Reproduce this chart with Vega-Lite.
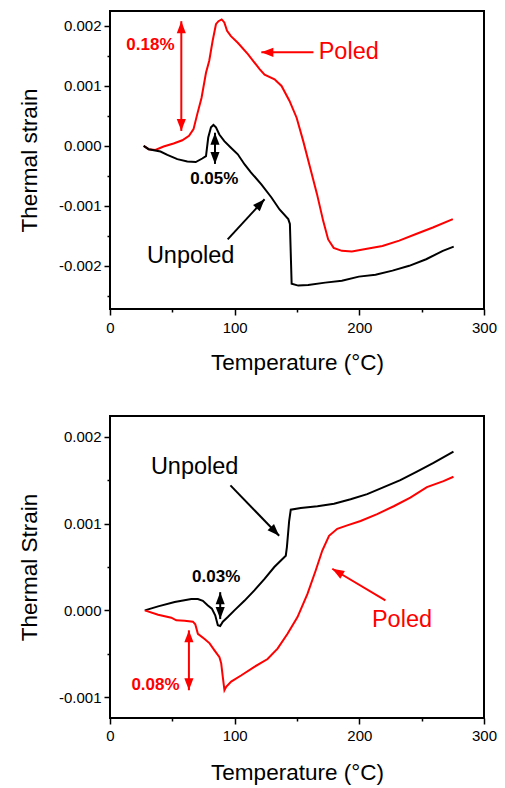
{
  "$schema": "https://vega.github.io/schema/vega-lite/v6.json",
  "padding": {"left": 17, "top": 10, "right": 10, "bottom": 5},
  "background": "white",
  "spacing": 40,
  "config": {
    "font": "Liberation Sans",
    "view": {"stroke": "black", "strokeWidth": 2},
    "axis": {
      "grid": false, "domain": false, "tickColor": "black", "tickWidth": 1.5,
      "labelColor": "black", "titleColor": "black", "labelFont": "Liberation Sans", "titleFont": "Liberation Sans",
      "labelFontSize": 15, "titleFontSize": 22.5, "titleFontWeight": "normal", "labelFlush": false, "labelOverlap": false
    }
  },
  "datasets": {
    "topCurves": [
      {"series": "Poled", "T": 27, "strain": 0},
      {"series": "Poled", "T": 31, "strain": -0.000055},
      {"series": "Poled", "T": 36.4, "strain": -0.000067},
      {"series": "Poled", "T": 43, "strain": -0.00001},
      {"series": "Poled", "T": 51, "strain": 0.00004},
      {"series": "Poled", "T": 58, "strain": 0.000094},
      {"series": "Poled", "T": 63.4, "strain": 0.000167},
      {"series": "Poled", "T": 67, "strain": 0.00028},
      {"series": "Poled", "T": 70, "strain": 0.00053},
      {"series": "Poled", "T": 73.4, "strain": 0.0008},
      {"series": "Poled", "T": 77, "strain": 0.00122},
      {"series": "Poled", "T": 79.6, "strain": 0.00142},
      {"series": "Poled", "T": 82.3, "strain": 0.00175},
      {"series": "Poled", "T": 85, "strain": 0.00203},
      {"series": "Poled", "T": 87, "strain": 0.00208},
      {"series": "Poled", "T": 89.6, "strain": 0.00211},
      {"series": "Poled", "T": 91.7, "strain": 0.00206},
      {"series": "Poled", "T": 93.9, "strain": 0.00192},
      {"series": "Poled", "T": 97, "strain": 0.00183},
      {"series": "Poled", "T": 102.5, "strain": 0.00172},
      {"series": "Poled", "T": 110.6, "strain": 0.00153},
      {"series": "Poled", "T": 120, "strain": 0.00128},
      {"series": "Poled", "T": 124, "strain": 0.00119},
      {"series": "Poled", "T": 132, "strain": 0.00111},
      {"series": "Poled", "T": 137.6, "strain": 0.001},
      {"series": "Poled", "T": 144, "strain": 0.00075},
      {"series": "Poled", "T": 149.7, "strain": 0.00047},
      {"series": "Poled", "T": 155, "strain": 0.00008},
      {"series": "Poled", "T": 160.5, "strain": -0.00036},
      {"series": "Poled", "T": 166, "strain": -0.0008},
      {"series": "Poled", "T": 171, "strain": -0.00125},
      {"series": "Poled", "T": 175, "strain": -0.00156},
      {"series": "Poled", "T": 179.4, "strain": -0.0017},
      {"series": "Poled", "T": 186, "strain": -0.00175},
      {"series": "Poled", "T": 194, "strain": -0.00176},
      {"series": "Poled", "T": 205, "strain": -0.00172},
      {"series": "Poled", "T": 218.5, "strain": -0.00167},
      {"series": "Poled", "T": 232, "strain": -0.00158},
      {"series": "Poled", "T": 245.5, "strain": -0.00147},
      {"series": "Poled", "T": 259, "strain": -0.00136},
      {"series": "Poled", "T": 275, "strain": -0.00122},
      {"series": "Unpoled", "T": 27, "strain": 0},
      {"series": "Unpoled", "T": 31, "strain": -0.000055},
      {"series": "Unpoled", "T": 40.5, "strain": -0.000094},
      {"series": "Unpoled", "T": 46, "strain": -0.00015},
      {"series": "Unpoled", "T": 54, "strain": -0.00022},
      {"series": "Unpoled", "T": 62, "strain": -0.00026},
      {"series": "Unpoled", "T": 68.8, "strain": -0.00027},
      {"series": "Unpoled", "T": 74, "strain": -0.00021},
      {"series": "Unpoled", "T": 77, "strain": -0.00017},
      {"series": "Unpoled", "T": 78.8, "strain": 0.00014},
      {"series": "Unpoled", "T": 81, "strain": 0.00031},
      {"series": "Unpoled", "T": 83, "strain": 0.00035},
      {"series": "Unpoled", "T": 85, "strain": 0.00031},
      {"series": "Unpoled", "T": 87.7, "strain": 0.00019},
      {"series": "Unpoled", "T": 91.7, "strain": 0.00008},
      {"series": "Unpoled", "T": 97, "strain": -0.00003},
      {"series": "Unpoled", "T": 102.5, "strain": -0.00014},
      {"series": "Unpoled", "T": 108, "strain": -0.00031},
      {"series": "Unpoled", "T": 113, "strain": -0.00044},
      {"series": "Unpoled", "T": 121.4, "strain": -0.00064},
      {"series": "Unpoled", "T": 129.5, "strain": -0.00086},
      {"series": "Unpoled", "T": 136, "strain": -0.00106},
      {"series": "Unpoled", "T": 143, "strain": -0.00122},
      {"series": "Unpoled", "T": 144.3, "strain": -0.0013},
      {"series": "Unpoled", "T": 145, "strain": -0.0018},
      {"series": "Unpoled", "T": 145.7, "strain": -0.0023},
      {"series": "Unpoled", "T": 151, "strain": -0.00233},
      {"series": "Unpoled", "T": 159, "strain": -0.00232},
      {"series": "Unpoled", "T": 172.6, "strain": -0.00228},
      {"series": "Unpoled", "T": 186, "strain": -0.00225},
      {"series": "Unpoled", "T": 199.6, "strain": -0.00218},
      {"series": "Unpoled", "T": 213, "strain": -0.00215},
      {"series": "Unpoled", "T": 226.6, "strain": -0.00208},
      {"series": "Unpoled", "T": 240, "strain": -0.002},
      {"series": "Unpoled", "T": 253.6, "strain": -0.00189},
      {"series": "Unpoled", "T": 267, "strain": -0.00175},
      {"series": "Unpoled", "T": 275.7, "strain": -0.00168}
    ],
    "bottomCurves": [
      {"series": "Unpoled", "T": 27.9, "strain": 0},
      {"series": "Unpoled", "T": 38.6, "strain": 0.000046},
      {"series": "Unpoled", "T": 51.9, "strain": 0.000096},
      {"series": "Unpoled", "T": 65.2, "strain": 0.00013},
      {"series": "Unpoled", "T": 70.5, "strain": 0.00013},
      {"series": "Unpoled", "T": 74.5, "strain": 0.00011},
      {"series": "Unpoled", "T": 78.5, "strain": 0.000057},
      {"series": "Unpoled", "T": 81.7, "strain": 0.00002},
      {"series": "Unpoled", "T": 84.4, "strain": -0.000057},
      {"series": "Unpoled", "T": 86.5, "strain": -0.00017},
      {"series": "Unpoled", "T": 88.4, "strain": -0.00018},
      {"series": "Unpoled", "T": 90.5, "strain": -0.00013},
      {"series": "Unpoled", "T": 94.5, "strain": -0.000077},
      {"series": "Unpoled", "T": 99.8, "strain": 0},
      {"series": "Unpoled", "T": 107.8, "strain": 0.00011},
      {"series": "Unpoled", "T": 115.8, "strain": 0.00023},
      {"series": "Unpoled", "T": 123.8, "strain": 0.00036},
      {"series": "Unpoled", "T": 131.8, "strain": 0.0005},
      {"series": "Unpoled", "T": 141, "strain": 0.00063},
      {"series": "Unpoled", "T": 141.9, "strain": 0.00073},
      {"series": "Unpoled", "T": 143.7, "strain": 0.00103},
      {"series": "Unpoled", "T": 145, "strain": 0.00116},
      {"series": "Unpoled", "T": 153, "strain": 0.00118},
      {"series": "Unpoled", "T": 166.4, "strain": 0.0012},
      {"series": "Unpoled", "T": 179.7, "strain": 0.00123},
      {"series": "Unpoled", "T": 193, "strain": 0.00128},
      {"series": "Unpoled", "T": 206.3, "strain": 0.00134},
      {"series": "Unpoled", "T": 219.6, "strain": 0.00142},
      {"series": "Unpoled", "T": 232.9, "strain": 0.0015},
      {"series": "Unpoled", "T": 246.2, "strain": 0.0016},
      {"series": "Unpoled", "T": 259.5, "strain": 0.0017},
      {"series": "Unpoled", "T": 275.5, "strain": 0.00183},
      {"series": "Poled", "T": 27.9, "strain": 0},
      {"series": "Poled", "T": 38.6, "strain": -0.00005},
      {"series": "Poled", "T": 49.2, "strain": -0.000084},
      {"series": "Poled", "T": 53.2, "strain": -0.000115},
      {"series": "Poled", "T": 59.9, "strain": -0.00012},
      {"series": "Poled", "T": 66.5, "strain": -0.00013},
      {"series": "Poled", "T": 68.4, "strain": -0.00016},
      {"series": "Poled", "T": 70.5, "strain": -0.00027},
      {"series": "Poled", "T": 75.9, "strain": -0.00033},
      {"series": "Poled", "T": 79.9, "strain": -0.00038},
      {"series": "Poled", "T": 83.8, "strain": -0.00046},
      {"series": "Poled", "T": 87.8, "strain": -0.00054},
      {"series": "Poled", "T": 89.2, "strain": -0.00061},
      {"series": "Poled", "T": 90.5, "strain": -0.00077},
      {"series": "Poled", "T": 91.8, "strain": -0.00092},
      {"series": "Poled", "T": 93.2, "strain": -0.00088},
      {"series": "Poled", "T": 97.2, "strain": -0.00082},
      {"series": "Poled", "T": 105.1, "strain": -0.00075},
      {"series": "Poled", "T": 115.8, "strain": -0.00065},
      {"series": "Poled", "T": 126.4, "strain": -0.00056},
      {"series": "Poled", "T": 134.4, "strain": -0.00044},
      {"series": "Poled", "T": 142.4, "strain": -0.00027},
      {"series": "Poled", "T": 150.4, "strain": -0.000077},
      {"series": "Poled", "T": 158.4, "strain": 0.00019},
      {"series": "Poled", "T": 165, "strain": 0.00046},
      {"series": "Poled", "T": 170.3, "strain": 0.00069},
      {"series": "Poled", "T": 175.7, "strain": 0.00086},
      {"series": "Poled", "T": 182.3, "strain": 0.00094},
      {"series": "Poled", "T": 190.3, "strain": 0.00098},
      {"series": "Poled", "T": 201, "strain": 0.00103},
      {"series": "Poled", "T": 214.3, "strain": 0.00111},
      {"series": "Poled", "T": 227.6, "strain": 0.0012},
      {"series": "Poled", "T": 240.9, "strain": 0.0013},
      {"series": "Poled", "T": 254.2, "strain": 0.00142},
      {"series": "Poled", "T": 267.5, "strain": 0.00149},
      {"series": "Poled", "T": 275.5, "strain": 0.00154}
    ],
    "topShafts": [
      {"series": "Poled", "T": 57.2, "strain": 0.00208, "T2": 57.2, "strain2": 0.00025},
      {"series": "Poled", "T": 163.2, "strain": 0.00156, "T2": 121.4, "strain2": 0.00156},
      {"series": "Unpoled", "T": 84.2, "strain": 0.00022, "T2": 84.2, "strain2": -0.0003},
      {"series": "Unpoled", "T": 94.4, "strain": -0.00156, "T2": 124, "strain2": -0.00089}
    ],
    "topHeads": [
      {"series": "Poled", "T": 57.2, "strain": 0.00208, "head": "up"},
      {"series": "Poled", "T": 57.2, "strain": 0.00025, "head": "down"},
      {"series": "Poled", "T": 121.4, "strain": 0.00156, "head": "left"},
      {"series": "Unpoled", "T": 84.2, "strain": 0.00022, "head": "up"},
      {"series": "Unpoled", "T": 84.2, "strain": -0.0003, "head": "down"},
      {"series": "Unpoled", "T": 124, "strain": -0.00089, "head": "upright"}
    ],
    "topLabels": [
      {"series": "Poled", "T": 32.4, "strain": 0.00169, "text": "0.18%", "kind": "pct"},
      {"series": "Unpoled", "T": 83.6, "strain": -0.00056, "text": "0.05%", "kind": "pct"},
      {"series": "Poled", "T": 191.5, "strain": 0.00156, "text": "Poled", "kind": "name"},
      {"series": "Unpoled", "T": 64.7, "strain": -0.00183, "text": "Unpoled", "kind": "name"}
    ],
    "bottomShafts": [
      {"series": "Unpoled", "T": 96.6, "strain": 0.00144, "T2": 135.7, "strain2": 0.00086},
      {"series": "Unpoled", "T": 88.4, "strain": 0.00021, "T2": 88.4, "strain2": -0.0001},
      {"series": "Poled", "T": 63.3, "strain": -0.00023, "T2": 63.3, "strain2": -0.00092},
      {"series": "Poled", "T": 220.9, "strain": 0.000115, "T2": 178.3, "strain2": 0.00048}
    ],
    "bottomHeads": [
      {"series": "Unpoled", "T": 135.7, "strain": 0.00086, "head": "downright"},
      {"series": "Unpoled", "T": 88.4, "strain": 0.00021, "head": "up"},
      {"series": "Unpoled", "T": 88.4, "strain": -0.0001, "head": "down"},
      {"series": "Poled", "T": 63.3, "strain": -0.00023, "head": "up"},
      {"series": "Poled", "T": 63.3, "strain": -0.00092, "head": "down"},
      {"series": "Poled", "T": 178.3, "strain": 0.00048, "head": "upleft"}
    ],
    "bottomLabels": [
      {"series": "Unpoled", "T": 67.9, "strain": 0.00165, "text": "Unpoled", "kind": "name"},
      {"series": "Unpoled", "T": 85.2, "strain": 0.00038, "text": "0.03%", "kind": "pct"},
      {"series": "Poled", "T": 36.5, "strain": -0.00086, "text": "0.08%", "kind": "pct"},
      {"series": "Poled", "T": 234.2, "strain": -0.000115, "text": "Poled", "kind": "name"}
    ]
  },
  "vconcat": [
    {
      "width": 374,
      "height": 298,
      "layer": [
        {
          "data": {"name": "topCurves"},
          "mark": {"type": "line", "strokeWidth": 2},
          "encoding": {
            "x": {"field": "T", "type": "quantitative", "scale": {"domain": [0, 300], "nice": false},
              "axis": {"title": "Temperature (°C)", "values": [0, 50, 100, 150, 200, 250, 300], "tickCount": 20,
                "labelExpr": "datum.value % 100 == 0 ? datum.label : ''", "labelOverlap": false,
                "tickSize": {"condition": {"test": "datum.value % 100 == 0", "value": 6}, "value": 3},
                "labelPadding": 5, "titlePadding": 16}},
            "y": {"field": "strain", "type": "quantitative", "scale": {"domain": [-0.00272, 0.00225], "nice": false, "zero": false},
              "axis": {"title": "Thermal strain", "values": [-0.0025, -0.002, -0.0015, -0.001, -0.0005, 0, 0.0005, 0.001, 0.0015, 0.002], "tickCount": 20,
                "labelExpr": "abs(round(datum.value*10000)) % 10 == 0 ? replace(format(datum.value, '.3f'), '\u2212', '-') : ''", "labelOverlap": false,
                "tickSize": {"condition": {"test": "abs(round(datum.value*10000)) % 10 == 0", "value": 6}, "value": 3},
                "labelPadding": 3, "titlePadding": 17}},
            "color": {"field": "series", "type": "nominal", "scale": {"domain": ["Poled", "Unpoled"], "range": ["#ff0000", "#000000"]}, "legend": null},
            "detail": {"field": "series"}
          }
        },
        {
          "data": {"name": "topShafts"},
          "mark": {"type": "rule", "strokeWidth": 2},
          "encoding": {
            "x": {"field": "T", "type": "quantitative"},
            "y": {"field": "strain", "type": "quantitative"},
            "x2": {"field": "T2"},
            "y2": {"field": "strain2"},
            "color": {"field": "series", "type": "nominal", "legend": null}
          }
        },
        {
          "data": {"name": "topHeads"},
          "mark": {"type": "point", "filled": true, "opacity": 1, "size": 576, "strokeWidth": 0},
          "encoding": {
            "x": {"field": "T", "type": "quantitative"},
            "y": {"field": "strain", "type": "quantitative"},
            "shape": {"field": "head", "type": "nominal", "legend": null,
              "scale": {"domain": ["up", "down", "left", "upright", "downright", "upleft"],
                "range": ["M0,0L-0.38,1L0.38,1Z", "M0,0L-0.38,-1L0.38,-1Z", "M0,0L1,-0.38L1,0.38Z", "M0,0L-0.96,0.48L-0.4,0.99Z", "M0,0L-0.43,-0.98L-0.97,-0.45Z", "M0,0L0.67,0.84L1.05,0.18Z"]}},
            "color": {"field": "series", "type": "nominal", "legend": null}
          }
        },
        {
          "data": {"name": "topLabels"},
          "transform": [{"filter": "datum.kind == 'pct'"}],
          "mark": {"type": "text", "fontSize": 17, "fontWeight": "bold", "baseline": "middle", "align": "center"},
          "encoding": {
            "x": {"field": "T", "type": "quantitative"},
            "y": {"field": "strain", "type": "quantitative"},
            "text": {"field": "text"},
            "color": {"field": "series", "type": "nominal", "legend": null}
          }
        },
        {
          "data": {"name": "topLabels"},
          "transform": [{"filter": "datum.kind == 'name'"}],
          "mark": {"type": "text", "fontSize": 23.5, "baseline": "middle", "align": "center"},
          "encoding": {
            "x": {"field": "T", "type": "quantitative"},
            "y": {"field": "strain", "type": "quantitative"},
            "text": {"field": "text"},
            "color": {"field": "series", "type": "nominal", "legend": null}
          }
        }
      ]
    },
    {
      "width": 374,
      "height": 302,
      "layer": [
        {
          "data": {"name": "bottomCurves"},
          "mark": {"type": "line", "strokeWidth": 2},
          "encoding": {
            "x": {"field": "T", "type": "quantitative", "scale": {"domain": [0, 300], "nice": false},
              "axis": {"title": "Temperature (°C)", "values": [0, 50, 100, 150, 200, 250, 300], "tickCount": 20,
                "labelExpr": "datum.value % 100 == 0 ? datum.label : ''", "labelOverlap": false,
                "tickSize": {"condition": {"test": "datum.value % 100 == 0", "value": 6}, "value": 3},
                "labelPadding": 4, "titlePadding": 18}},
            "y": {"field": "strain", "type": "quantitative", "scale": {"domain": [-0.00124, 0.00224], "nice": false, "zero": false},
              "axis": {"title": "Thermal Strain", "values": [-0.001, -0.0005, 0, 0.0005, 0.001, 0.0015, 0.002], "tickCount": 20,
                "labelExpr": "abs(round(datum.value*10000)) % 10 == 0 ? replace(format(datum.value, '.3f'), '\u2212', '-') : ''", "labelOverlap": false,
                "tickSize": {"condition": {"test": "abs(round(datum.value*10000)) % 10 == 0", "value": 6}, "value": 3},
                "labelPadding": 3, "titlePadding": 17}},
            "color": {"field": "series", "type": "nominal", "scale": {"domain": ["Poled", "Unpoled"], "range": ["#ff0000", "#000000"]}, "legend": null},
            "detail": {"field": "series"}
          }
        },
        {
          "data": {"name": "bottomShafts"},
          "mark": {"type": "rule", "strokeWidth": 2},
          "encoding": {
            "x": {"field": "T", "type": "quantitative"},
            "y": {"field": "strain", "type": "quantitative"},
            "x2": {"field": "T2"},
            "y2": {"field": "strain2"},
            "color": {"field": "series", "type": "nominal", "legend": null}
          }
        },
        {
          "data": {"name": "bottomHeads"},
          "mark": {"type": "point", "filled": true, "opacity": 1, "size": 576, "strokeWidth": 0},
          "encoding": {
            "x": {"field": "T", "type": "quantitative"},
            "y": {"field": "strain", "type": "quantitative"},
            "shape": {"field": "head", "type": "nominal", "legend": null,
              "scale": {"domain": ["up", "down", "left", "upright", "downright", "upleft"],
                "range": ["M0,0L-0.38,1L0.38,1Z", "M0,0L-0.38,-1L0.38,-1Z", "M0,0L1,-0.38L1,0.38Z", "M0,0L-0.96,0.48L-0.4,0.99Z", "M0,0L-0.43,-0.98L-0.97,-0.45Z", "M0,0L0.67,0.84L1.05,0.18Z"]}},
            "color": {"field": "series", "type": "nominal", "legend": null}
          }
        },
        {
          "data": {"name": "bottomLabels"},
          "transform": [{"filter": "datum.kind == 'pct'"}],
          "mark": {"type": "text", "fontSize": 17, "fontWeight": "bold", "baseline": "middle", "align": "center"},
          "encoding": {
            "x": {"field": "T", "type": "quantitative"},
            "y": {"field": "strain", "type": "quantitative"},
            "text": {"field": "text"},
            "color": {"field": "series", "type": "nominal", "legend": null}
          }
        },
        {
          "data": {"name": "bottomLabels"},
          "transform": [{"filter": "datum.kind == 'name'"}],
          "mark": {"type": "text", "fontSize": 23.5, "baseline": "middle", "align": "center"},
          "encoding": {
            "x": {"field": "T", "type": "quantitative"},
            "y": {"field": "strain", "type": "quantitative"},
            "text": {"field": "text"},
            "color": {"field": "series", "type": "nominal", "legend": null}
          }
        }
      ]
    }
  ]
}
